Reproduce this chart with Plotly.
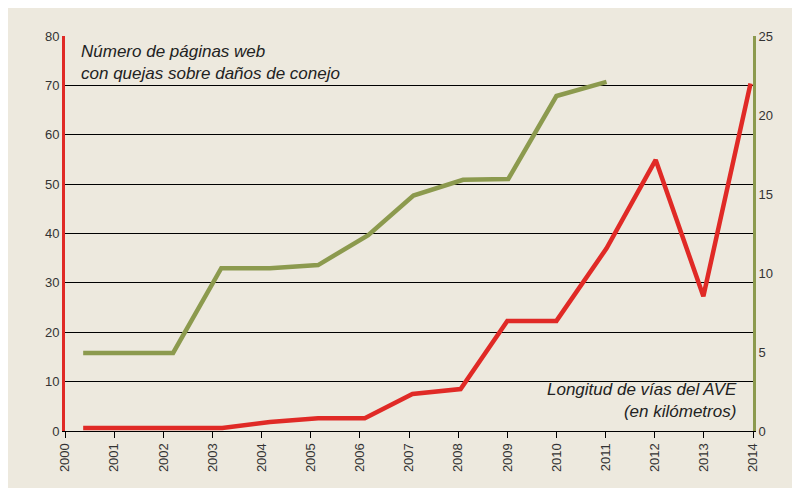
import plotly.graph_objects as go

# red series (left axis)
red_x = [2000.37, 2003.2, 2004.17, 2005.15, 2006.1, 2007.07, 2008.05, 2009.0, 2010.0, 2011.02, 2012.02, 2012.99, 2013.95]
red_y = [0.6, 0.6, 1.8, 2.6, 2.6, 7.5, 8.5, 22.3, 22.3, 37, 54.9, 27.3, 70.4]
# green series (right axis)
green_x = [2000.37, 2002.2, 2003.18, 2004.17, 2005.15, 2006.17, 2007.09, 2008.1, 2009.02, 2010.0, 2011.02]
green_y = [4.94, 4.94, 10.3, 10.3, 10.5, 12.4, 14.9, 15.9, 15.95, 21.2, 22.1]
years = list(range(2000, 2015))

RED = "#e02a26"
GREEN = "#8c9a4e"
BG = "#ede9de"

fig = go.Figure()
fig.add_scatter(x=red_x, y=red_y, mode="lines", line=dict(color=RED, width=4.5), yaxis="y")
fig.add_scatter(x=green_x, y=green_y, mode="lines", line=dict(color=GREEN, width=4.5), yaxis="y2")

fig.update_layout(
    width=800, height=488, showlegend=False,
    paper_bgcolor=BG, plot_bgcolor=BG,
    margin=dict(l=57, r=55, t=28, b=65, autoexpand=False),
    font=dict(family="Liberation Sans", color="#333", size=13),
    xaxis=dict(range=[2000, 2014], tickvals=years, ticktext=[str(y) for y in years],
               tickangle=-90, showgrid=False, zeroline=False, showline=True,
               linecolor="black", ticks="outside", ticklen=6, tickcolor="black",
               automargin=False),
    yaxis=dict(range=[0, 80], dtick=10, showgrid=True, gridcolor="black", gridwidth=1,
               zeroline=False, showline=True, linecolor=RED, linewidth=3, ticks="",
               automargin=False),
    yaxis2=dict(range=[0, 25], dtick=5, overlaying="y", side="right", showgrid=False,
                zeroline=False, showline=True, linecolor=GREEN, linewidth=3, ticks="",
                automargin=False),
)

fig.add_annotation(x=0.02, y=0.99, xref="paper", yref="paper", xanchor="left", yanchor="top",
                   align="left", showarrow=False,
                   text="<i>Número de páginas web<br>con quejas sobre daños de conejo</i>",
                   font=dict(size=17, color="#222"))
fig.add_annotation(x=0.98, y=0.02, xref="paper", yref="paper", xanchor="right", yanchor="bottom",
                   align="right", showarrow=False,
                   text="<i>Longitud de vías del AVE<br>(en kilómetros)</i>",
                   font=dict(size=17, color="#222"))

fig.write_html("out.html")
